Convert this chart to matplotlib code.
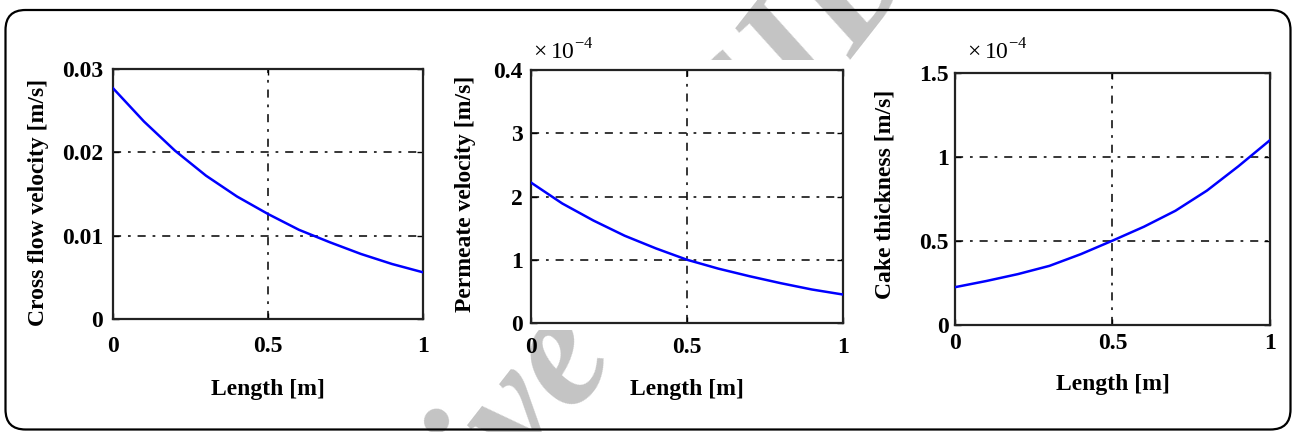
import numpy as np
import matplotlib
matplotlib.use("Agg")
import matplotlib.pyplot as plt
from matplotlib.patches import FancyBboxPatch, Rectangle

plt.rcParams['font.family'] = ['Liberation Serif', 'DejaVu Serif']
plt.rcParams['mathtext.fontset'] = 'custom'
plt.rcParams['mathtext.rm'] = 'Liberation Serif'

# distance along the membrane channel [m]
length = [0.0, 0.1, 0.2, 0.3, 0.4, 0.5, 0.6, 0.7, 0.8, 0.9, 1.0]

# cross flow velocity [m/s]
cross_flow = [0.0277, 0.0237, 0.0202, 0.0172, 0.0147, 0.0126,
              0.0107, 0.0092, 0.0078, 0.0066, 0.0056]
# permeate velocity [x 1e-4 m/s]
permeate = [2.22, 1.89, 1.62, 1.38, 1.18, 1.00, 0.86, 0.74, 0.63, 0.53, 0.45]
# cake thickness [x 1e-4]
cake = [0.225, 0.262, 0.303, 0.352, 0.422, 0.502, 0.585, 0.680, 0.800, 0.945, 1.10]

x_ticks = [0, 0.5, 1]
x_ticklabels = ['0', '0.5', '1']

cross_ticks = [0, 0.01, 0.02, 0.03]
cross_ticklabels = ['0', '0.01', '0.02', '0.03']
perm_ticks = [0, 1, 2, 3, 4]
perm_ticklabels = ['0', '1', '2', '3', '0.4']
cake_ticks = [0, 0.5, 1, 1.5]
cake_ticklabels = ['0', '0.5', '1', '1.5']

FS = 17

fig = plt.figure(figsize=(12.94, 4.32), dpi=100)

# rounded frame around the whole figure (inch units keep the corners round)
frame = FancyBboxPatch((0.055, 0.025), 12.85, 4.195,
                       boxstyle="round,pad=0,rounding_size=0.2",
                       transform=fig.dpi_scale_trans, fill=False,
                       edgecolor='black', linewidth=1.6, zorder=2)
fig.patches.append(frame)

# faint watermark, covered by the white plot band in the middle
fig.text(0.447, 0.183, 'Archive of SID', fontsize=120, fontstyle='italic',
         fontweight='bold', color='#c4c4c4', rotation=52,
         ha='center', va='center', zorder=-2)
fig.patches.append(Rectangle((0.012, 0.236), 0.976, 0.625,
                             transform=fig.transFigure, facecolor='white',
                             edgecolor='none', zorder=-1))

panels = [
    dict(pos=[0.0873, 0.2616, 0.2396, 0.5787], y=cross_flow, ylim=0.03,
         ticks=cross_ticks, labels=cross_ticklabels,
         ylabel='Cross flow velocity [m/s]', ylab=(-0.205, 0.468),
         xlab=-0.24, xpad=12, ypad=7, mult=None),
    dict(pos=[0.4104, 0.2523, 0.2411, 0.5856], y=permeate, ylim=4,
         ticks=perm_ticks, labels=perm_ticklabels,
         ylabel='Permeate velocity [m/s]', ylab=(-0.178, 0.51),
         xlab=-0.222, xpad=10, ypad=6, mult=(0.006, 1.07)),
    dict(pos=[0.7380, 0.2477, 0.2434, 0.5833], y=cake, ylim=1.5,
         ticks=cake_ticks, labels=cake_ticklabels,
         ylabel='Cake thickness [m/s]', ylab=(-0.19, 0.52),
         xlab=-0.195, xpad=6, ypad=4.5, mult=(0.038, 1.085)),
]

for p in panels:
    ax = fig.add_axes(p['pos'])
    ax.set_facecolor('white')
    ax.plot(length, p['y'], color='#0000ff', linewidth=1.8, zorder=3)
    ax.set_xlim(0, 1)
    ax.set_ylim(0, p['ylim'])
    ax.set_xticks(x_ticks)
    ax.set_xticklabels(x_ticklabels)
    ax.set_yticks(p['ticks'])
    ax.set_yticklabels(p['labels'])
    ax.tick_params(direction='in', top=True, right=True, length=4,
                   width=1, labelsize=FS)
    ax.tick_params(axis='x', pad=p['xpad'])
    ax.tick_params(axis='y', pad=p['ypad'])
    for lab in ax.get_xticklabels() + ax.get_yticklabels():
        lab.set_fontweight('bold')
    ax.grid(True, color='black', linewidth=1.1,
            linestyle=(0, (5.3, 4.5, 1.8, 4.5)))
    for sp in ax.spines.values():
        sp.set_linewidth(1.6)
        sp.set_color('#222222')
    ax.set_xlabel('Length [m]', fontsize=FS, fontweight='bold')
    ax.xaxis.set_label_coords(0.5, p['xlab'])
    ax.set_ylabel(p['ylabel'], fontsize=FS, fontweight='bold')
    ax.yaxis.set_label_coords(*p['ylab'])
    if p['mult'] is not None:
        ax.text(p['mult'][0], p['mult'][1], r'$\times\,10^{-4}$',
                transform=ax.transAxes, fontsize=FS, ha='left', va='center')

fig.savefig('out.png', dpi=100)
